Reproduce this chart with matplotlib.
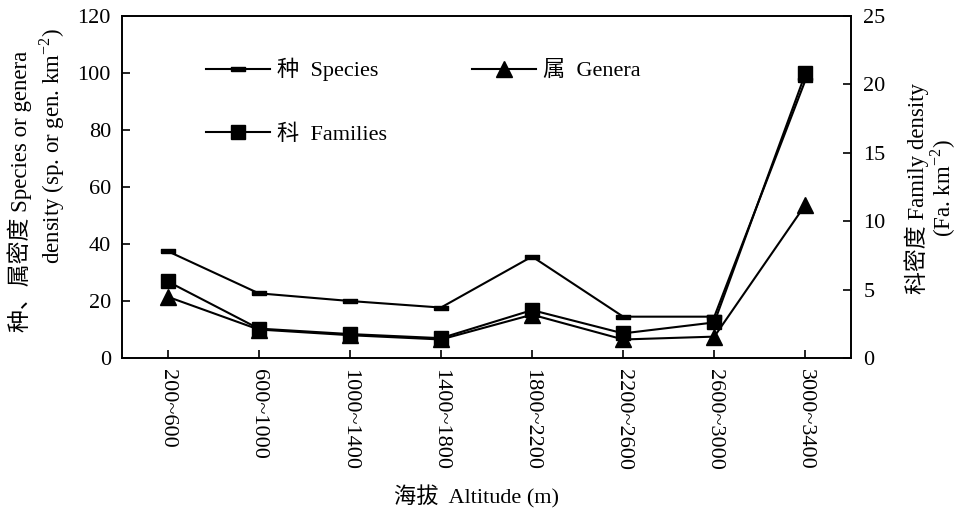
import matplotlib
matplotlib.use("Agg")
import matplotlib.pyplot as plt
from matplotlib.lines import Line2D

plt.rcParams['font.family'] = ['Liberation Serif', 'Noto Sans CJK SC', 'DejaVu Sans']
plt.rcParams['mathtext.fontset'] = 'custom'
plt.rcParams['mathtext.rm'] = 'Liberation Serif'

altitudes = ["200~600", "600~1000", "1000~1400", "1400~1800",
             "1800~2200", "2200~2600", "2600~3000", "3000~3400"]
species = [37.5, 22.7, 20.0, 17.7, 35.6, 14.5, 14.5, 97.5]
genera = [21.5, 10.0, 8.0, 6.5, 15.2, 6.5, 7.5, 53.8]
families = [5.6, 2.15, 1.75, 1.45, 3.5, 1.8, 2.6, 20.8]

left_ticks = [0, 20, 40, 60, 80, 100, 120]
right_ticks = [0, 5, 10, 15, 20, 25]

W, H = 965, 512
fig = plt.figure(figsize=(W/100, H/100), dpi=100)
ax = fig.add_axes([122/W, 1-358/H, (851-122)/W, (358-16)/H])
ax2 = ax.twinx()

x = list(range(len(altitudes)))
rect = [(-1, -0.28), (1, -0.28), (1, 0.28), (-1, 0.28), (-1, -0.28)]
ax.plot(x, species, color='black', lw=1.5, marker=rect, ms=10.5, mfc='black', mec='black')
ax.plot(x, genera, color='black', lw=1.5, marker='^', ms=11, mfc='black', mec='black')
ax2.plot(x, families, color='black', lw=1.5, marker='s', ms=9.5, mfc='black', mec='black')

ax.set_xlim(-0.5, 7.5)
ax.set_ylim(0, 120)
ax2.set_ylim(0, 25)
ax.set_yticks(left_ticks)
ax2.set_yticks(right_ticks)
ax.set_xticks(x)
ax.set_xticklabels(altitudes, rotation=-90, fontsize=16)
ax.tick_params(axis='both', direction='in', length=6, width=1.2, labelsize=16)
ax.tick_params(axis='x', pad=8)
ax.tick_params(axis='y', pad=8)
ax2.tick_params(axis='y', direction='in', length=6, width=1.2, labelsize=16, pad=9)
for a in (ax, ax2):
    for s in a.spines.values():
        s.set_linewidth(1.2)

fs_lab = 16.5
fig.text(20/W, 1-191/H, "种、属密度 Species or genera", rotation=90,
         ha='center', va='center', fontsize=fs_lab)
fig.text(52/W, 1-146/H, "density (sp. or gen. km$^{-2}$)", rotation=90,
         ha='center', va='center', fontsize=fs_lab)
fig.text(917/W, 1-188/H, "科密度 Family density", rotation=90,
         ha='center', va='center', fontsize=fs_lab)
fig.text(943/W, 1-188/H, "(Fa. km$^{-2}$)", rotation=90,
         ha='center', va='center', fontsize=fs_lab)
fig.text(477/W, 1-497/H, "海拔  Altitude (m)", ha='center', va='center', fontsize=16)

h_sp = Line2D([], [], color='black', lw=1.5, marker=rect, ms=10.5, mfc='black')
h_ge = Line2D([], [], color='black', lw=1.5, marker='^', ms=11, mfc='black')
h_fa = Line2D([], [], color='black', lw=1.5, marker='s', ms=9.5, mfc='black')
leg = ax.legend([h_sp, h_fa, h_ge], ["种  Species", "科  Families", "属  Genera"],
                ncol=2, frameon=False, fontsize=16, handlelength=2.9,
                loc='upper left', bbox_to_anchor=((206-122)/729, (358-58)/342),
                borderpad=0, borderaxespad=0,
                columnspacing=3.8, labelspacing=1.95, handletextpad=0.3)

fig.savefig("out.png", dpi=100)
